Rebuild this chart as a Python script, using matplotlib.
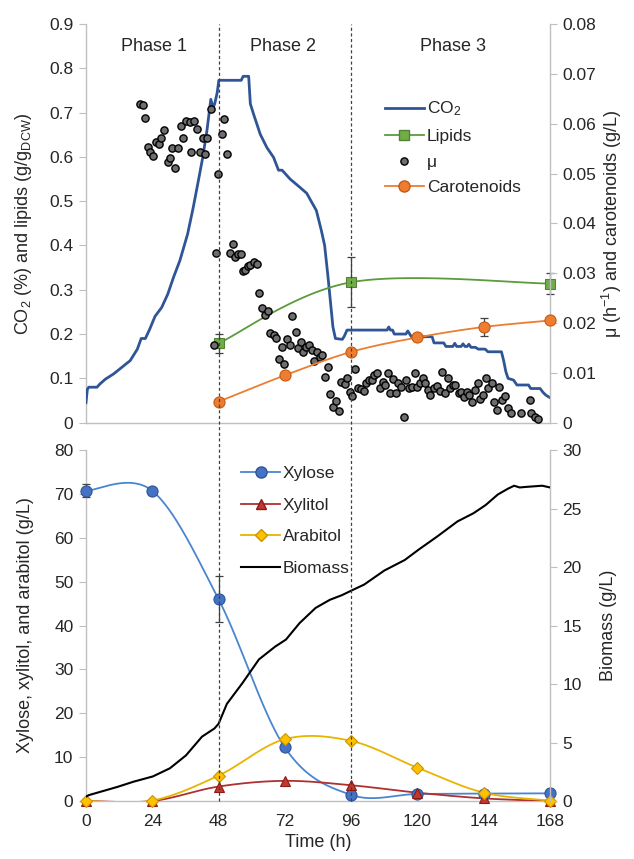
import numpy as np
import matplotlib
matplotlib.use("Agg")
import matplotlib.pyplot as plt
from matplotlib.lines import Line2D
from matplotlib.transforms import blended_transform_factory

plt.rcParams['font.family'] = ['Liberation Sans', 'DejaVu Sans']
plt.rcParams['mathtext.fontset'] = 'custom'
plt.rcParams['mathtext.rm'] = 'Liberation Sans'
plt.rcParams['mathtext.it'] = 'Liberation Sans'
plt.rcParams['mathtext.default'] = 'regular'

# ---------------- data: top panel ----------------
co2_t = [0, 0.5, 1, 4, 5, 7, 10, 13, 16, 18.6, 20, 21.5, 23, 25, 27.4, 29.6, 31.8, 34,
         36.8, 38.8, 40.8, 42.3, 43.8, 44.6, 45.2, 46.0, 46.6, 47.5, 48.1, 56.2, 56.9, 58.9,
         59.5, 60.7, 63.1, 65.5, 67.9, 69.7, 71.0, 73.9, 77.5, 79.9, 83.4, 85.2, 86.4, 87.6,
         89.4, 90.3, 92.8, 93.5, 94.5, 109.0, 109.6, 110.2, 111.0, 111.6, 115.8, 116.5,
         117.2, 117.8, 125.3, 126.0, 129.5, 130.3, 132.8, 133.5, 134.2, 135.8, 136.5, 137.2,
         138.0, 138.6, 139.4, 141.0, 142.0, 144.5, 145.5, 150.4, 151.2, 152.0, 152.8, 154.8,
         156.0, 160.2, 161.0, 164.4, 165.5, 166.5, 167.8]
co2_v = [0.045, 0.075, 0.08, 0.08, 0.087, 0.098, 0.11, 0.125, 0.14, 0.166, 0.19, 0.19, 0.21,
         0.24, 0.26, 0.29, 0.33, 0.366, 0.426, 0.485, 0.55, 0.60, 0.66, 0.70, 0.73, 0.711,
         0.72, 0.745, 0.773, 0.773, 0.782, 0.782, 0.72, 0.696, 0.651, 0.621, 0.599, 0.570,
         0.570, 0.55, 0.531, 0.518, 0.479, 0.434, 0.40, 0.33, 0.216, 0.19, 0.188, 0.195, 0.209,
         0.209, 0.216, 0.209, 0.209, 0.20, 0.20, 0.207, 0.20, 0.194, 0.194, 0.18, 0.18, 0.172,
         0.172, 0.179, 0.172, 0.172, 0.178, 0.172, 0.172, 0.177, 0.17, 0.17, 0.166, 0.166,
         0.16, 0.16, 0.14, 0.115, 0.10, 0.096, 0.085, 0.085, 0.077, 0.077, 0.068, 0.062, 0.057]

mu_t = [19.5, 20.6, 21.5, 22.4, 23.2, 24.2, 25.4, 26.3, 27.2, 28.2, 29.6, 30.4, 31.1, 32.2,
        33.4, 34.4, 35.2, 36.2, 37.6, 39.2, 38.2, 40.1, 41.2, 42.2, 43.9, 43.1, 45.1, 47.9,
        49.1, 50.0, 50.9,
        46.3, 46.9, 52.0, 53.1, 53.9, 54.9, 56.2, 56.9, 57.7, 58.7, 59.5, 60.7, 61.9, 62.7,
        63.9, 64.9, 65.9, 66.7, 67.9, 68.8, 72.9, 74.7, 75.9,
        69.7, 70.9, 71.8, 73.9, 76.6, 77.7, 78.6, 79.6, 80.8, 81.7, 82.6, 83.7, 84.6, 85.6,
        86.4, 87.6, 88.5, 89.4, 90.4, 91.6, 92.4, 93.6, 94.6, 95.4, 96.4, 97.4, 98.4, 99.6,
        100.5, 101.4, 102.6, 103.6, 104.4, 105.4, 106.4, 107.4, 108.3, 109.2, 110.1, 111.2,
        112.2, 113.1, 114.0, 115.2, 116.0, 117.0, 117.9, 119.1,
        119.9, 120.9, 122.0, 122.9, 123.9, 124.7, 125.9, 126.9, 128.0, 128.9, 130.1, 131.1,
        131.9, 132.9, 133.7, 134.9, 135.9, 137.0, 137.9, 138.7, 139.7, 140.9, 141.8, 142.7,
        143.9, 144.8, 145.7, 146.9, 147.8, 148.7, 149.6, 150.7, 151.7, 152.9, 153.7, 157.6,
        160.6, 161.2, 162.4, 163.6]
mu_v = [0.0639, 0.0637, 0.0611, 0.0553, 0.0544, 0.0535, 0.0564, 0.0560, 0.0572, 0.0587,
        0.0524, 0.0532, 0.0551, 0.0511, 0.0551, 0.0595, 0.0572, 0.0605, 0.0604, 0.0605,
        0.0543, 0.0590, 0.0543, 0.0572, 0.0572, 0.0540, 0.0629, 0.0499, 0.0579, 0.0609,
        0.0540,
        0.0155, 0.0341, 0.0341, 0.0359, 0.0333, 0.0339, 0.0339, 0.0304, 0.0307, 0.0314,
        0.0317, 0.0322, 0.0319, 0.0260, 0.0231, 0.0217, 0.0225, 0.0180, 0.0175, 0.0169,
        0.0167, 0.0214, 0.0182,
        0.0127, 0.0152, 0.0117, 0.0155, 0.0149, 0.0162, 0.0142, 0.0152, 0.0155, 0.0145,
        0.0124, 0.0142, 0.0132, 0.0135, 0.0092, 0.0112, 0.0057, 0.0031, 0.0044, 0.0023,
        0.0082, 0.0077, 0.0089, 0.0062, 0.0053, 0.0107, 0.0069, 0.0067, 0.0064, 0.0080,
        0.0085, 0.0085, 0.0095, 0.0099, 0.0069, 0.0082, 0.0075, 0.0099, 0.0059, 0.0087,
        0.0060, 0.0080, 0.0072, 0.0012, 0.0085, 0.0070, 0.0072, 0.0100,
        0.0072, 0.0080, 0.0089, 0.0079, 0.0065, 0.0055, 0.0069, 0.0073, 0.0063, 0.0102,
        0.0059, 0.0089, 0.0069, 0.0075, 0.0075, 0.0060, 0.0062, 0.0052, 0.0062, 0.0055,
        0.0042, 0.0065, 0.0080, 0.0047, 0.0055, 0.0089, 0.0069, 0.0079, 0.0042, 0.0025,
        0.0072, 0.0045, 0.0053, 0.0029, 0.0019, 0.0020, 0.0045, 0.0019, 0.0011, 0.0007]

lip_t = [48, 96, 168]
lip_v = [0.179, 0.317, 0.314]
lip_e = [0.021, 0.057, 0.024]

car_t = [48, 72, 96, 120, 144, 168]
car_v = [0.0042, 0.0095, 0.0142, 0.0171, 0.0192, 0.0205]
car_e = [0, 0, 0, 0, 0.0018, 0]

phase_labels = ["Phase 1", "Phase 2", "Phase 3"]
phase_x = [24.5, 71.5, 133]
phase_bounds = [48, 96]

# ---------------- data: bottom panel ----------------
samp_t = [0, 24, 48, 72, 96, 120, 144, 168]
xylose = [70.7, 70.7, 46.0, 12.2, 1.4, 1.6, 1.7, 1.75]
xylose_e = [1.5, 0, 5.3, 0, 0, 0, 0, 0]
xylitol = [0, 0, 3.3, 4.6, 3.6, 1.9, 0.6, 0]
arabitol = [0, 0.1, 5.8, 14.1, 13.7, 7.6, 1.9, 0.1]

bio_t = [0, 1, 5.4, 11.3, 17.2, 24.2, 30.4, 36.2, 42, 46.5, 48, 51, 56.7, 62.6, 68.5, 72.4,
         77.3, 83.1, 88.3, 92.7, 96.2, 100.7, 108, 115.4, 120.5, 127.1, 134.5, 140.3, 144.7,
         149.1, 152.8, 155, 157, 159.4, 162.3, 165.2, 168]
bio_v = [0.37, 0.5, 0.8, 1.2, 1.65, 2.1, 2.8, 3.9, 5.5, 6.2, 6.6, 8.3, 10.1, 12.1, 13.2, 13.8,
         15.2, 16.5, 17.2, 17.6, 18.0, 18.5, 19.7, 20.6, 21.5, 22.6, 23.9, 24.6, 25.3, 26.2,
         26.7, 26.95, 26.8, 26.85, 26.9, 26.95, 26.8]

x_ticks = [0, 24, 48, 72, 96, 120, 144, 168]
top_left_ticks = [0, 0.1, 0.2, 0.3, 0.4, 0.5, 0.6, 0.7, 0.8, 0.9]
top_left_labels = ["0", "0.1", "0.2", "0.3", "0.4", "0.5", "0.6", "0.7", "0.8", "0.9"]
top_right_ticks = [0, 0.01, 0.02, 0.03, 0.04, 0.05, 0.06, 0.07, 0.08]
top_right_labels = ["0", "0.01", "0.02", "0.03", "0.04", "0.05", "0.06", "0.07", "0.08"]
bot_left_ticks = [0, 10, 20, 30, 40, 50, 60, 70, 80]
bot_right_ticks = [0, 5, 10, 15, 20, 25, 30]


def excel_smooth(x, y, n=40):
    P = np.column_stack([x, y]).astype(float)
    m = len(P)
    out = [P[0]]
    t = np.linspace(0, 1, n)[1:, None]
    for i in range(m - 1):
        p0 = P[i - 1] if i > 0 else P[i]
        p1, p2 = P[i], P[i + 1]
        p3 = P[i + 2] if i + 2 < m else P[i + 1]
        c1 = p1 + (p2 - p0) / 6.0
        c2 = p2 - (p3 - p1) / 6.0
        seg = (1 - t) ** 3 * p1 + 3 * (1 - t) ** 2 * t * c1 + 3 * (1 - t) * t ** 2 * c2 + t ** 3 * p2
        out.extend(seg)
    out = np.array(out)
    return out[:, 0], out[:, 1]


FS = 12.5
GRID = '#bfbfbf'
TXT = '#262626'

fig = plt.figure(figsize=(6.34, 8.59), dpi=100)
ax1 = fig.add_axes([0.1356, 0.508, 0.732, 0.464])
ax1r = ax1.twinx()
ax2 = fig.add_axes([0.1356, 0.0675, 0.732, 0.4086])
ax2r = ax2.twinx()


def style(ax, axr):
    for a in (ax, axr):
        a.spines['top'].set_visible(False)
        a.set_xlim(0, 168)
    ax.spines['right'].set_visible(False)
    axr.spines['left'].set_visible(False)
    axr.spines['bottom'].set_visible(False)
    ax.spines['left'].set_color(GRID)
    ax.spines['bottom'].set_color(GRID)
    axr.spines['right'].set_color(GRID)
    for s in ('left', 'bottom'):
        ax.spines[s].set_linewidth(1.0)
    axr.spines['right'].set_linewidth(1.0)
    ax.tick_params(axis='y', direction='out', length=5, color=GRID, labelsize=FS, labelcolor=TXT, pad=4)
    axr.tick_params(axis='y', direction='out', length=5, color=GRID, labelsize=FS, labelcolor=TXT, pad=4)


style(ax1, ax1r)
style(ax2, ax2r)

# ---------------- top panel ----------------
ax1.plot(co2_t, co2_v, color='#2F5597', lw=2.0, zorder=3, label='CO$_2$')
sx, sy = excel_smooth(lip_t, lip_v)
ax1.plot(sx, sy, color='#5B9B3B', lw=1.3, zorder=4)
ax1.errorbar(lip_t, lip_v, yerr=lip_e, fmt='none', ecolor='#404040', elinewidth=0.9, capsize=3,
             capthick=0.9, zorder=4, clip_on=False)
ax1.plot(lip_t, lip_v, ls='none', marker='s', ms=7.5, mfc='#70AD47', mec='#548235', mew=0.8,
         zorder=5, clip_on=False)

ax1r.plot(mu_t, mu_v, ls='none', marker='o', ms=5.2, mfc='#6e6e6e', mec='black', mew=1.0, zorder=3)
cx, cy = excel_smooth(car_t, car_v)
ax1r.plot(cx, cy, color='#ED7D31', lw=1.3, zorder=4)
ax1r.errorbar(car_t, car_v, yerr=car_e, fmt='none', ecolor='#404040', elinewidth=0.9, capsize=3,
              capthick=0.9, zorder=4, clip_on=False)
ax1r.plot(car_t, car_v, ls='none', marker='o', ms=8, mfc='#ED7D31', mec='#C55A11', mew=0.8,
          zorder=5, clip_on=False)

ax1.set_ylim(0, 0.9)
ax1r.set_ylim(0, 0.08)
ax1.set_yticks(top_left_ticks, top_left_labels)
ax1r.set_yticks(top_right_ticks, top_right_labels)
ax1.set_xticks(x_ticks)
ax1.tick_params(axis='x', length=0, labelbottom=False)
ax1.set_ylabel('CO$_2$ (%) and lipids (g/g$_{DCW}$)', fontsize=FS + 0.5, color=TXT)
ax1r.set_ylabel('\u03bc (h$^{-1}$) and carotenoids (g/L)', fontsize=FS + 0.5, color=TXT)
ax1.yaxis.set_label_coords(-0.112, 0.5)
ax1r.yaxis.set_label_coords(1.107, 0.5)

for lab, xp in zip(phase_labels, phase_x):
    ax1r.text(xp, 0.0755, lab, ha='center', va='center', fontsize=FS + 0.5, color=TXT)

h_top = [
    Line2D([], [], color='#2F5597', lw=2.0),
    Line2D([], [], color='#5B9B3B', lw=1.3, marker='s', ms=7.5, mfc='#70AD47', mec='#548235'),
    Line2D([], [], ls='none', marker='o', ms=5.2, mfc='#6e6e6e', mec='black'),
    Line2D([], [], color='#ED7D31', lw=1.3, marker='o', ms=8, mfc='#ED7D31', mec='#C55A11'),
]
l_top = ['CO$_2$', 'Lipids', '\u03bc', 'Carotenoids']
leg1 = ax1r.legend(h_top, l_top, loc='upper left', bbox_to_anchor=(0.645, 0.81), frameon=False,
                   fontsize=FS, handlelength=2.2, handletextpad=0.2, labelspacing=0.6,
                   borderaxespad=0, borderpad=0)
for t in leg1.get_texts():
    t.set_color(TXT)

# ---------------- bottom panel ----------------
xx, xy = excel_smooth(samp_t, xylose)
ax2.plot(xx, xy, color='#4A86D0', lw=1.3, zorder=4)
ax2.errorbar(samp_t, xylose, yerr=xylose_e, fmt='none', ecolor='#404040', elinewidth=0.9,
             capsize=3, capthick=0.9, zorder=4, clip_on=False)
ax2.plot(samp_t, xylose, ls='none', marker='o', ms=8, mfc='#4472C4', mec='#2F5597', mew=0.8,
         zorder=6, clip_on=False)

tx, ty = excel_smooth(samp_t, xylitol)
ax2.plot(tx, ty, color='#B03030', lw=1.3, zorder=4)
ax2.plot(samp_t, xylitol, ls='none', marker='^', ms=7.5, mfc='#C0392B', mec='#8B1A1A', mew=0.8,
         zorder=6, clip_on=False)

ax_, ay_ = excel_smooth(samp_t, arabitol)
ax2.plot(ax_, ay_, color='#E8B400', lw=1.3, zorder=4)
ax2.plot(samp_t, arabitol, ls='none', marker='D', ms=6.5, mfc='#FFC000', mec='#C89600', mew=0.8,
         zorder=6, clip_on=False)

ax2r.plot(bio_t, bio_v, color='black', lw=1.5, zorder=3)

ax2.set_ylim(0, 80)
ax2r.set_ylim(0, 30)
ax2.set_yticks(bot_left_ticks)
ax2r.set_yticks(bot_right_ticks)
ax2.set_xticks(x_ticks)
ax2.tick_params(axis='x', direction='out', length=0, color=GRID, labelsize=FS, labelcolor=TXT, pad=9)
ax2.set_xlabel('Time (h)', fontsize=FS + 0.5, color=TXT, labelpad=4)
ax2.set_ylabel('Xylose, xylitol, and arabitol (g/L)', fontsize=FS + 0.5, color=TXT)
ax2r.set_ylabel('Biomass (g/L)', fontsize=FS + 0.5, color=TXT)
ax2.yaxis.set_label_coords(-0.112, 0.5)
ax2r.yaxis.set_label_coords(1.107, 0.5)

h_bot = [
    Line2D([], [], color='#4A86D0', lw=1.3, marker='o', ms=8, mfc='#4472C4', mec='#2F5597'),
    Line2D([], [], color='#B03030', lw=1.3, marker='^', ms=7.5, mfc='#C0392B', mec='#8B1A1A'),
    Line2D([], [], color='#E8B400', lw=1.3, marker='D', ms=6.5, mfc='#FFC000', mec='#C89600'),
    Line2D([], [], color='black', lw=1.5),
]
l_bot = ['Xylose', 'Xylitol', 'Arabitol', 'Biomass']
leg2 = ax2r.legend(h_bot, l_bot, loc='upper left', bbox_to_anchor=(0.335, 0.955), frameon=False,
                   fontsize=FS, handlelength=2.2, handletextpad=0.2, labelspacing=0.95,
                   borderaxespad=0, borderpad=0)
for t in leg2.get_texts():
    t.set_color(TXT)

# ---------------- phase boundary dashed lines ----------------
top_y = ax1.get_position().y1
bot_y = ax2.get_position().y0
trans = blended_transform_factory(ax1.transData, fig.transFigure)
for b in phase_bounds:
    fig.add_artist(Line2D([b, b], [bot_y, top_y], transform=trans, color='#404040', lw=0.9,
                          ls=(0, (2.5, 2)), zorder=10))

fig.savefig('out.png', dpi=100)
